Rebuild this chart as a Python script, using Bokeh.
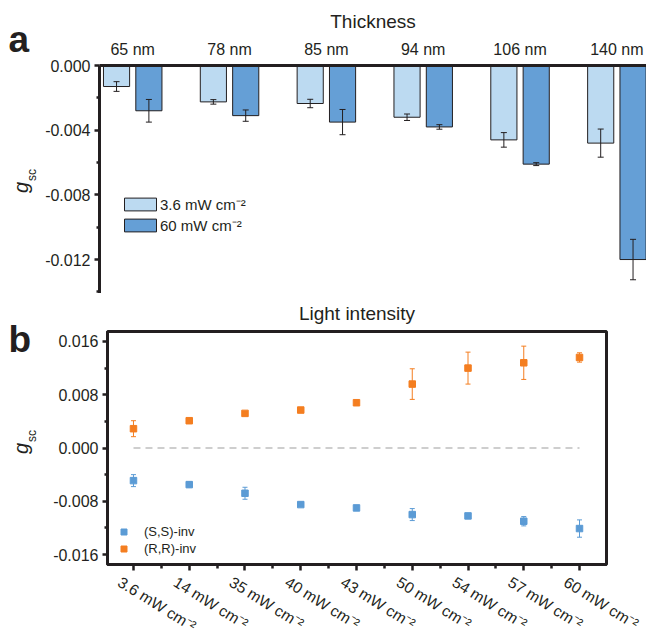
import math
from bokeh.plotting import figure
from bokeh.models import (ColumnDataSource, Range1d, FixedTicker, PrintfTickFormatter,
                          Whisker, TeeHead, LabelSet, Legend, LegendItem, Title, Div)
from bokeh.layouts import row
from bokeh.core.properties import value
from bokeh.transform import dodge
from bokeh.embed import file_html
from bokeh.resources import INLINE

FONT = "Liberation Sans"
INK = "#231F20"
LIGHT = "#BCDAF1"
DARK = "#659FD6"
BLUE = "#5B9BD5"
ORANGE = "#F47E20"

# ---------------- panel a data ----------------
thickness = ["65 nm", "78 nm", "85 nm", "94 nm", "106 nm", "140 nm"]
gsc_low_int = [-0.0013, -0.00225, -0.00235, -0.0032, -0.0046, -0.0048]
err_low_int = [0.0003, 0.00014, 0.00026, 0.0002, 0.00045, 0.00087]
gsc_high_int = [-0.0028, -0.0031, -0.0035, -0.0038, -0.0061, -0.0120]
err_high_int = [0.0007, 0.00035, 0.00078, 0.00014, 0.00009, 0.00125]
legend_a = ["3.6 mW cm\u207b\u00b2", "60 mW cm\u207b\u00b2"]

# ---------------- panel b data ----------------
intensity = ["3.6 mW cm\u207b\u00b2", "14 mW cm\u207b\u00b2", "35 mW cm\u207b\u00b2",
             "40 mW cm\u207b\u00b2", "43 mW cm\u207b\u00b2", "50 mW cm\u207b\u00b2",
             "54 mW cm\u207b\u00b2", "57 mW cm\u207b\u00b2", "60 mW cm\u207b\u00b2"]
gsc_ss = [-0.0049, -0.0055, -0.0068, -0.0085, -0.0090, -0.0100, -0.0102, -0.0110, -0.0121]
err_ss = [0.0009, 0.0004, 0.0009, 0.0002, 0.0002, 0.0009, 0.0002, 0.0007, 0.0013]
gsc_rr = [0.0029, 0.0041, 0.0052, 0.0057, 0.0068, 0.0096, 0.0120, 0.0128, 0.0136]
err_rr = [0.0012, 0.0003, 0.0003, 0.0002, 0.0002, 0.0023, 0.0024, 0.0025, 0.0007]
legend_b = ["(S,S)-inv", "(R,R)-inv"]

# ---------------- layout sizes (px) ----------------
PAGE_W = 646
STRIP_W = 42
MAIN_W = PAGE_W - STRIP_W
H1, H2, H3 = 293, 278, 68
B_LEFT, B_RIGHT, B_TOP, B_BOTTOM = 65, 40, 37, 7
XB_RANGE = (-0.466, 8.484)


def style_axis(ax, size="16px"):
    ax.axis_line_width = 3
    ax.axis_line_color = INK
    ax.major_tick_line_color = INK
    ax.minor_tick_line_color = INK
    ax.major_tick_line_width = 2.5
    ax.minor_tick_line_width = 2.5
    ax.major_tick_in = 0
    ax.minor_tick_in = 0
    ax.major_label_text_font = FONT
    ax.major_label_text_font_size = size
    ax.major_label_text_color = INK


def panel_title(text, offset, standoff):
    return Title(text=text, align="center", offset=offset, standoff=standoff,
                 text_font=FONT, text_font_size="19px", text_font_style="normal",
                 text_color=INK)


def bare(p):
    p.outline_line_color = None
    p.xgrid.visible = False
    p.ygrid.visible = False
    p.background_fill_color = None
    p.border_fill_color = None


def side_div(height, letter, letter_top, g_top):
    html = (
        f'<div style="position:relative;width:{STRIP_W}px;height:{height}px;'
        f'font-family:\'{FONT}\';color:{INK};">'
        f'<span style="position:absolute;left:8.5px;top:{letter_top}px;font-size:37px;'
        f'line-height:37px;font-weight:bold;white-space:nowrap;">{letter}</span>'
        f'<span style="position:absolute;left:11px;top:{g_top}px;font-size:20px;line-height:20px;'
        f'white-space:nowrap;transform:rotate(-90deg);transform-origin:left top;">'
        f'<i>g</i><span style="font-size:12px;position:relative;top:8px;margin-left:1px;">sc</span>'
        f'</span></div>'
    )
    return Div(text=html, width=STRIP_W, height=height, margin=0)


# ================= panel a =================
idx_a = list(range(len(thickness)))
src_a = ColumnDataSource(dict(
    x=idx_a,
    low=gsc_low_int,
    low_up=[v + e for v, e in zip(gsc_low_int, err_low_int)],
    low_lo=[v - e for v, e in zip(gsc_low_int, err_low_int)],
    high=gsc_high_int,
    high_up=[v + e for v, e in zip(gsc_high_int, err_high_int)],
    high_lo=[v - e for v, e in zip(gsc_high_int, err_high_int)],
))

p1 = figure(width=MAIN_W, height=H1, x_range=Range1d(-0.343, 5.306), y_range=Range1d(-0.0141, 0),
            x_axis_location="above", output_backend="svg", toolbar_location=None,
            title=panel_title("Thickness", -18, 12),
            min_border_left=56, min_border_right=0, min_border_top=65, min_border_bottom=0)
bare(p1)

OFF = 0.167
BW = 0.27
r_low = p1.vbar(x=dodge("x", -OFF, range=p1.x_range), top=0, bottom="low", width=BW,
                fill_color=LIGHT, line_color=INK, line_width=1, source=src_a)
r_high = p1.vbar(x=dodge("x", OFF, range=p1.x_range), top=0, bottom="high", width=BW,
                 fill_color=DARK, line_color=INK, line_width=1, source=src_a)
for off, up, lo in [(-OFF, "low_up", "low_lo"), (OFF, "high_up", "high_lo")]:
    w = Whisker(base=dodge("x", off, range=p1.x_range), upper=up, lower=lo, source=src_a,
                dimension="height", line_color=INK, line_width=1, level="overlay",
                upper_head=TeeHead(size=6, line_color=INK, line_width=1),
                lower_head=TeeHead(size=6, line_color=INK, line_width=1))
    p1.add_layout(w)

xa = p1.xaxis[0]
style_axis(xa)
xa.ticker = FixedTicker(ticks=idx_a)
xa.major_label_overrides = {i: t for i, t in zip(idx_a, thickness)}
xa.major_tick_out = 0
xa.minor_tick_out = 0
xa.major_tick_line_color = None
xa.minor_tick_line_color = None
xa.major_label_standoff = 8

ya = p1.yaxis[0]
style_axis(ya)
ya.ticker = FixedTicker(ticks=[0, -0.004, -0.008, -0.012],
                        minor_ticks=[-0.002, -0.006, -0.010, -0.014])
ya.formatter = PrintfTickFormatter(format="%.3f")
ya.major_tick_out = 5
ya.minor_tick_out = 3
ya.major_label_standoff = 4

leg_a = Legend(items=[LegendItem(label=legend_a[0], renderers=[r_low]),
                      LegendItem(label=legend_a[1], renderers=[r_high])],
               location=(21, 58), glyph_width=40, glyph_height=16, label_height=16,
               label_standoff=0, spacing=1, padding=0, margin=0,
               border_line_color=None, background_fill_alpha=0,
               label_text_font=FONT, label_text_font_size="15px", label_text_color=INK)
p1.add_layout(leg_a)

# ================= panel b =================
idx_b = list(range(len(intensity)))
src_b = ColumnDataSource(dict(
    x=idx_b,
    ss=gsc_ss,
    ss_up=[v + e for v, e in zip(gsc_ss, err_ss)],
    ss_lo=[v - e for v, e in zip(gsc_ss, err_ss)],
    rr=gsc_rr,
    rr_up=[v + e for v, e in zip(gsc_rr, err_rr)],
    rr_lo=[v - e for v, e in zip(gsc_rr, err_rr)],
))

p2 = figure(width=MAIN_W, height=H2, x_range=Range1d(*XB_RANGE), y_range=Range1d(-0.0175, 0.0175),
            output_backend="svg", toolbar_location=None,
            title=panel_title("Light intensity", -1, 15),
            min_border_left=B_LEFT, min_border_right=B_RIGHT,
            min_border_top=B_TOP, min_border_bottom=B_BOTTOM)
bare(p2)
p2.outline_line_color = INK
p2.outline_line_width = 3

p2.line(x=[idx_b[0], idx_b[-1]], y=[0, 0], line_color="#BFBFBF", line_width=1.5, line_dash="7 5")

for up, lo, col in [("ss_up", "ss_lo", BLUE), ("rr_up", "rr_lo", ORANGE)]:
    w = Whisker(base="x", upper=up, lower=lo, source=src_b, dimension="height",
                line_color=col, line_width=1,
                upper_head=TeeHead(size=5, line_color=col, line_width=1),
                lower_head=TeeHead(size=5, line_color=col, line_width=1))
    p2.add_layout(w)
r_ss = p2.scatter("x", "ss", marker="square", size=6.5, fill_color=BLUE, line_color=BLUE, source=src_b)
r_rr = p2.scatter("x", "rr", marker="square", size=6.5, fill_color=ORANGE, line_color=ORANGE, source=src_b)

xb = p2.xaxis[0]
style_axis(xb, size="0px")
xb.ticker = FixedTicker(ticks=idx_b, minor_ticks=[i + 0.5 for i in idx_b[:-1]])
xb.major_label_overrides = {i: "" for i in idx_b}
xb.major_tick_out = 6
xb.minor_tick_out = 4
xb.major_label_standoff = 0

yb = p2.yaxis[0]
style_axis(yb)
yb.ticker = FixedTicker(ticks=[-0.016, -0.008, 0, 0.008, 0.016],
                        minor_ticks=[-0.012, -0.004, 0.004, 0.012])
yb.formatter = PrintfTickFormatter(format="%.3f")
yb.major_tick_out = 5
yb.minor_tick_out = 3
yb.major_label_standoff = 4

leg_b = Legend(items=[LegendItem(label=legend_b[0], renderers=[r_ss]),
                      LegendItem(label=legend_b[1], renderers=[r_rr])],
               location=(9, 8), glyph_width=15, glyph_height=15, label_height=15,
               label_standoff=13, spacing=2, padding=0, margin=0,
               border_line_color=None, background_fill_alpha=0,
               label_text_font=FONT, label_text_font_size="13px", label_text_color=INK)
p2.add_layout(leg_b)

# ====== strip below panel b carrying its category labels (same x scale) ======
px_per_unit = (MAIN_W - B_LEFT - B_RIGHT) / (XB_RANGE[1] - XB_RANGE[0])
lab_start = XB_RANGE[0] - (STRIP_W + B_LEFT) / px_per_unit
lab_end = lab_start + PAGE_W / px_per_unit
p3 = figure(width=PAGE_W, height=H3, x_range=Range1d(lab_start, lab_end), y_range=Range1d(H3, 0),
            x_axis_location=None, y_axis_location=None, output_backend="svg",
            toolbar_location=None, min_border=0, title=None)
bare(p3)
src_lab = ColumnDataSource(dict(x=idx_b, y=[9] * len(idx_b), text=intensity))
p3.add_layout(LabelSet(x="x", y="y", text="text", source=src_lab, x_offset=-14,
                       angle=-32, angle_units="deg", text_font=value(FONT),
                       text_font_size=value("15.5px"), text_color=INK,
                       text_align="left", text_baseline="middle"))

root1 = row(side_div(H1, "a", 20.7, 193), p1, spacing=0)
root2 = row(side_div(H2, "b", 27.7, 161), p2, spacing=0)
open("out.html", "w").write(file_html([root1, root2, p3], INLINE))
